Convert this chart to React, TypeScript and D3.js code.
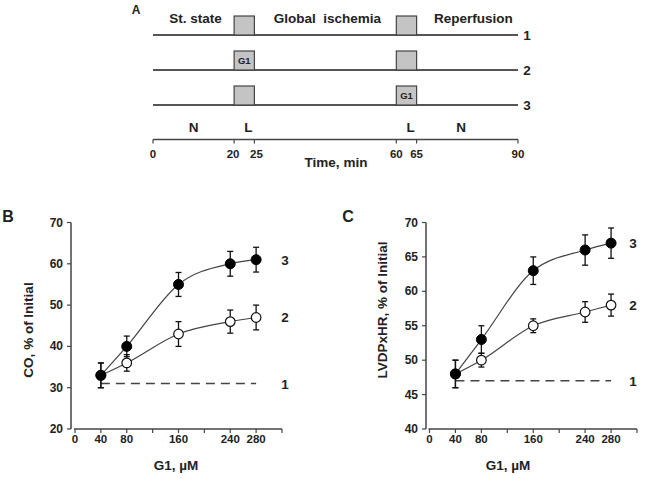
import React from "react";
import * as d3 from "d3";

// Panel A – protocol
const timeTicks = [0, 20, 25, 60, 65, 90];
const protocolRows = ["1", "2", "3"];
const boxes = [[20, 25], [60, 65]];
const g1Box = [null, 0, 1]; // which box carries "G1" per row
const phaseLabels = [
  { t: 10.5, text: "St. state" },
  { t: 43, text: "Global  ischemia" },
  { t: 79, text: "Reperfusion" },
];
const nlLabels = [
  { t: 10, text: "N" },
  { t: 23.5, text: "L" },
  { t: 63.5, text: "L" },
  { t: 76, text: "N" },
];

// Panels B and C – dose response
const doses = [40, 80, 160, 240, 280];
const xTickVals = [0, 40, 80, 120, 160, 200, 240, 280, 320];
const xTickLabels = ["0", "40", "80", "", "160", "", "240", "280", ""];

const coG3 = [33, 40, 55, 60, 61];
const coG3Err = [3, 2.5, 2.9, 3, 3];
const coG2 = [33, 36, 43, 46, 47];
const coG2Err = [3, 2, 3, 2.8, 3];
const coG1 = 31;
const coTicks = [20, 30, 40, 50, 60, 70];

const lvG3 = [48, 53, 63, 66, 67];
const lvG3Err = [2, 2, 2, 2.2, 2.2];
const lvG2 = [48, 50, 55, 57, 58];
const lvG2Err = [2, 1, 1, 1.5, 1.6];
const lvG1 = 47;
const lvTicks = [40, 45, 50, 55, 60, 65, 70];

const FONT = "'Liberation Sans', Arial, sans-serif";
const TXT = "#222";
const AX = "#454545";

function ProtocolPanel() {
  const x = d3.scaleLinear().domain([0, 90]).range([153, 518]);
  const rowY = [35, 70, 105];
  const axisY = 139.5;
  const bh = 19;
  return (
    <g fontFamily={FONT} fontWeight="bold" fill={TXT}>
      <text x={136} y={14} fontSize={12} textAnchor="middle">A</text>
      {phaseLabels.map((p, i) => (
        <text key={i} x={x(p.t)} y={23} fontSize={13.5} textAnchor="middle" style={{ whiteSpace: "pre" }}>
          {p.text}
        </text>
      ))}
      {rowY.map((y, r) => (
        <g key={r}>
          <line x1={x(0)} x2={x(90)} y1={y} y2={y} stroke="#555" strokeWidth={1.8} />
          {boxes.map((b, bi) => (
            <g key={bi}>
              <rect x={x(b[0])} y={y - bh} width={x(b[1]) - x(b[0])} height={bh} fill="#c4c4c4" stroke="#444" strokeWidth={1.2} />
              {g1Box[r] === bi && (
                <text x={(x(b[0]) + x(b[1])) / 2} y={y - 6} fontSize={9.5} textAnchor="middle">G1</text>
              )}
            </g>
          ))}
          <text x={527} y={y + 5} fontSize={13.5} textAnchor="middle">{protocolRows[r]}</text>
        </g>
      ))}
      {nlLabels.map((n, i) => (
        <text key={i} x={x(n.t)} y={132} fontSize={13.5} textAnchor="middle">{n.text}</text>
      ))}
      <line x1={x(0)} x2={x(90)} y1={axisY} y2={axisY} stroke={AX} strokeWidth={1.4} />
      {timeTicks.map((t) => (
        <g key={t}>
          <line x1={x(t)} x2={x(t)} y1={axisY} y2={axisY + 4} stroke={AX} strokeWidth={1.2} />
          <text x={x(t) + (t === 20 ? -1 : t === 25 ? 2 : 0)} y={158} fontSize={11.5} textAnchor="middle">{t}</text>
        </g>
      ))}
      <text x={336} y={167} fontSize={13.5} textAnchor="middle">Time, min</text>
    </g>
  );
}

type DoseProps = {
  letter: string;
  letterX: number;
  yAxisX: number;
  xRange: [number, number];
  yDomain: [number, number];
  yTicks: number[];
  yTitle: string;
  yTitleX: number;
  yTitleY: number;
  xTitleX: number;
  g3: number[];
  g3e: number[];
  g2: number[];
  g2e: number[];
  g1: number;
  numX: number;
};

function DosePanel(p: DoseProps) {
  const x = d3.scaleLinear().domain([0, 320]).range(p.xRange);
  const y = d3.scaleLinear().domain(p.yDomain).range([429, 222.5]);
  const line = d3
    .line<number>()
    .x((_, i) => x(doses[i]))
    .y((v) => y(v))
    .curve(d3.curveMonotoneX);
  const axisY = 429;
  const err = (vals: number[], errs: number[], key: string) =>
    vals.map((v, i) => (
      <g key={key + i} stroke="#111" strokeWidth={1.3}>
        <line x1={x(doses[i])} x2={x(doses[i])} y1={y(v + errs[i])} y2={y(v - errs[i])} />
        <line x1={x(doses[i]) - 3} x2={x(doses[i]) + 3} y1={y(v + errs[i])} y2={y(v + errs[i])} />
        <line x1={x(doses[i]) - 3} x2={x(doses[i]) + 3} y1={y(v - errs[i])} y2={y(v - errs[i])} />
      </g>
    ));
  return (
    <g fontFamily={FONT} fontWeight="bold" fill={TXT}>
      <text x={p.letterX} y={222} fontSize={16} textAnchor="middle">{p.letter}</text>
      {/* y axis */}
      <line x1={p.yAxisX} x2={p.yAxisX} y1={y(p.yDomain[1])} y2={axisY} stroke={AX} strokeWidth={1.5} />
      {p.yTicks.map((t) => (
        <g key={t}>
          <line x1={p.yAxisX - 4} x2={p.yAxisX} y1={y(t)} y2={y(t)} stroke={AX} strokeWidth={1.2} />
          <text x={p.yAxisX - 8} y={y(t) + 4} fontSize={12} textAnchor="end">{t}</text>
        </g>
      ))}
      {/* x axis */}
      <line x1={x(0) - 1} x2={x(320)} y1={axisY} y2={axisY} stroke={AX} strokeWidth={1.5} />
      {xTickVals.map((t, i) => (
        <g key={t}>
          <line x1={x(t)} x2={x(t)} y1={axisY} y2={axisY + 4} stroke={AX} strokeWidth={1.2} />
          {xTickLabels[i] && (
            <text x={x(t)} y={443} fontSize={11.5} textAnchor="middle">{xTickLabels[i]}</text>
          )}
        </g>
      ))}
      <text x={p.xTitleX} y={470} fontSize={13.5} textAnchor="middle">G1, µM</text>
      <text
        transform={`translate(${p.yTitleX},${p.yTitleY}) rotate(-90)`}
        fontSize={13.5}
        textAnchor="middle"
      >
        {p.yTitle}
      </text>
      {/* dashed series 1 */}
      <line x1={x(40)} x2={x(280)} y1={y(p.g1)} y2={y(p.g1)} stroke="#444" strokeWidth={1.4} strokeDasharray="9,6" />
      {/* curves */}
      <path d={line(p.g2) || ""} fill="none" stroke="#444" strokeWidth={1.2} />
      <path d={line(p.g3) || ""} fill="none" stroke="#444" strokeWidth={1.2} />
      {err(p.g2, p.g2e, "e2")}
      {err(p.g3, p.g3e, "e3")}
      {p.g2.map((v, i) => (
        <circle key={"o" + i} cx={x(doses[i])} cy={y(v)} r={4.8} fill="#fff" stroke="#111" strokeWidth={1.2} />
      ))}
      {p.g3.map((v, i) => (
        <circle key={"f" + i} cx={x(doses[i])} cy={y(v)} r={5} fill="#000" stroke="#000" />
      ))}
      <text x={p.numX} y={y(p.g3[4]) + 5} fontSize={13.5} textAnchor="middle">3</text>
      <text x={p.numX} y={y(p.g2[4]) + 5} fontSize={13.5} textAnchor="middle">2</text>
      <text x={p.numX} y={y(p.g1) + 5} fontSize={13.5} textAnchor="middle">1</text>
    </g>
  );
}

export default function App() {
  return (
    <svg
      width={650}
      height={478}
      viewBox="0 0 650 478"
      style={{ position: "absolute", left: 0, top: 0, background: "#fff" }}
    >
      <rect width={650} height={478} fill="#fff" />
      <ProtocolPanel />
      <DosePanel
        letter="B"
        letterX={8}
        yAxisX={71}
        xRange={[75, 282]}
        yDomain={[20, 70]}
        yTicks={coTicks}
        yTitle="CO, % of Initial"
        yTitleX={33}
        yTitleY={330}
        xTitleX={176}
        g3={coG3}
        g3e={coG3Err}
        g2={coG2}
        g2e={coG2Err}
        g1={coG1}
        numX={285}
      />
      <DosePanel
        letter="C"
        letterX={348}
        yAxisX={426}
        xRange={[429.5, 637]}
        yDomain={[40, 70]}
        yTicks={lvTicks}
        yTitle="LVDPxHR, % of Initial"
        yTitleX={387}
        yTitleY={310}
        xTitleX={508}
        g3={lvG3}
        g3e={lvG3Err}
        g2={lvG2}
        g2e={lvG2Err}
        g1={lvG1}
        numX={633}
      />
    </svg>
  );
}
